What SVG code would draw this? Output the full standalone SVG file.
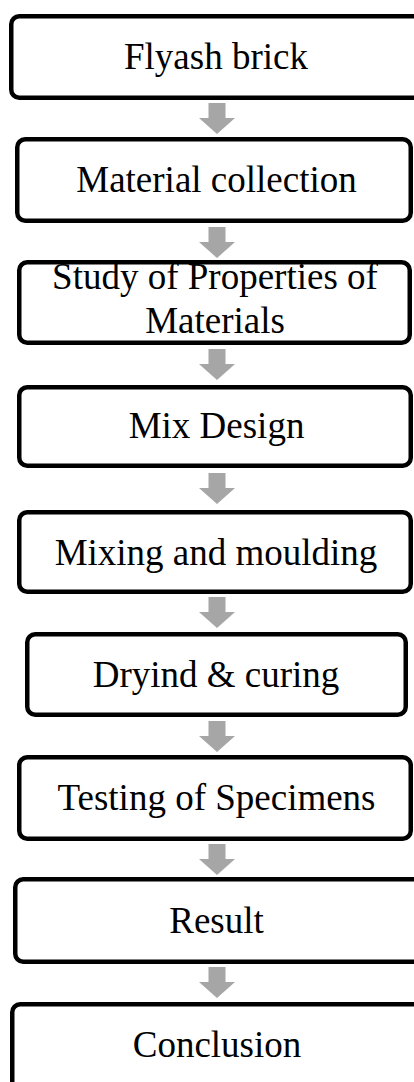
<svg xmlns="http://www.w3.org/2000/svg" width="414" height="1082" viewBox="0 0 414 1082">
<style>
.box{fill:#fff;stroke:#000;stroke-width:4.5}
.lbl{font-family:"Liberation Serif","Times New Roman",serif;font-size:37px;fill:#000;text-anchor:middle}
.arr{fill:#a6a6a6}
</style>
<defs>
<path id="ar" d="M-8.5,0 H8.5 V15 H18 L0,31 L-18,15 H-8.5 Z"/>
</defs>
<rect width="414" height="1082" fill="#fff"/>
<g id="connectors">
<use href="#ar" class="arr" x="217" y="103"/>
<use href="#ar" class="arr" x="217" y="227"/>
<use href="#ar" class="arr" x="217" y="349"/>
<use href="#ar" class="arr" x="217" y="473"/>
<use href="#ar" class="arr" x="217" y="597"/>
<use href="#ar" class="arr" x="217" y="721"/>
<use href="#ar" class="arr" x="217" y="844"/>
<use href="#ar" class="arr" x="217" y="967"/>
</g>
<g id="n1"><rect class="box" x="11.25" y="16.25" width="410" height="81.5" rx="8"/><text class="lbl" x="216" y="69">Flyash brick</text></g>
<g id="n2"><rect class="box" x="17.25" y="139.25" width="393.5" height="81.5" rx="8"/><text class="lbl" x="216.5" y="192">Material collection</text></g>
<g id="n3"><rect class="box" x="19.25" y="262.25" width="390.5" height="80.5" rx="8"/><text class="lbl" x="215" y="289">Study of Properties of</text><text class="lbl" x="215" y="333">Materials</text></g>
<g id="n4"><rect class="box" x="19.25" y="387.25" width="391.5" height="78.5" rx="8"/><text class="lbl" x="216.5" y="438">Mix Design</text></g>
<g id="n5"><rect class="box" x="19.25" y="512.25" width="391.5" height="79.5" rx="8"/><text class="lbl" x="216" y="565">Mixing and moulding</text></g>
<g id="n6"><rect class="box" x="27.25" y="634.25" width="378.5" height="80.5" rx="8"/><text class="lbl" x="216" y="687">Dryind &amp; curing</text></g>
<g id="n7"><rect class="box" x="19.25" y="757.25" width="391.5" height="81.5" rx="8"/><text class="lbl" x="216.5" y="810">Testing of Specimens</text></g>
<g id="n8"><rect class="box" x="15.25" y="879.25" width="410" height="82.5" rx="8"/><text class="lbl" x="216.5" y="933">Result</text></g>
<g id="n9"><rect class="box" x="12.25" y="1004.25" width="410" height="90" rx="8"/><text class="lbl" x="217" y="1057">Conclusion</text></g>
</svg>
